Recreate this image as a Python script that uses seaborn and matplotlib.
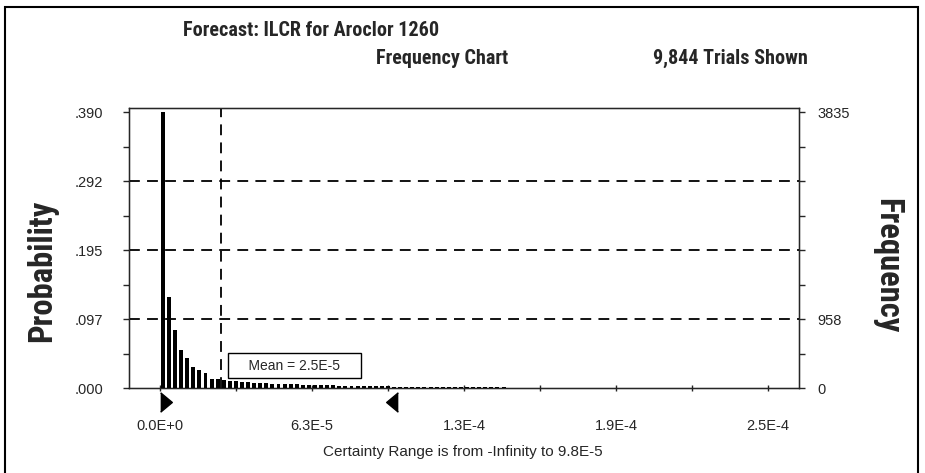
import numpy as np
import pandas as pd
import matplotlib
matplotlib.use("Agg")
import matplotlib.pyplot as plt
import matplotlib.transforms as mtransforms
from matplotlib import font_manager
import seaborn as sns

# Crystal Ball forecast: 100 cells of 2.5E-6 between 0 and 2.5E-4
cell_width = 2.5e-6
trials_shown = 9844
mean_value = 2.5e-5
certainty_low = 0.0
certainty_high = 9.8e-5

frequency = [
    3835, 1264, 806, 528, 417, 292, 250, 208, 125, 125,
    110, 100, 95, 88, 80, 75, 70, 66, 62, 58,
    55, 52, 50, 47, 45, 42, 40, 38, 36, 34,
    32, 30, 28, 26, 25, 24, 22, 21, 20, 19,
    18, 17, 16, 15, 14, 13, 12, 12, 11, 10,
    10, 9, 9, 8, 8, 7, 7, 6, 6, 6,
    5, 5, 5, 4, 4, 4, 4, 3, 3, 3,
    3, 3, 2, 2, 2, 2, 2, 2, 2, 2,
    1, 1, 1, 1, 1, 1, 1, 1, 1, 1,
    1, 1, 1, 1, 1, 1, 0, 1, 0, 1,
]

x_tick_values = [0.0, 6.25e-5, 1.25e-4, 1.875e-4, 2.5e-4]
x_tick_labels = ["0.0E+0", "6.3E-5", "1.3E-4", "1.9E-4", "2.5E-4"]
prob_tick_labels = [".000", ".097", ".195", ".292", ".390"]
freq_tick_values = [0, 958, 3835]
freq_tick_labels = ["0", "958", "3835"]

sns.set_style("ticks")
available = {f.name for f in font_manager.fontManager.ttflist}
narrow = "Liberation Sans"
for cand in ["Liberation Sans Narrow", "Arial Narrow", "Roboto Condensed"]:
    if cand in available:
        narrow = cand
        break
plt.rcParams["font.family"] = ["Liberation Sans", "DejaVu Sans"]

freq = np.array(frequency, dtype=float)
edges = np.arange(len(freq) + 1) * cell_width
df = pd.DataFrame({"value": edges[:-1] + cell_width / 2,
                   "prob": freq / trials_shown})
max_prob = freq.max() / trials_shown
prob_ticks = max_prob * np.array([0, 0.25, 0.5, 0.75, 1.0])

fig = plt.figure(figsize=(9.25, 4.73), dpi=100)
ax = fig.add_axes([129 / 925, 1 - 388 / 473, 670 / 925, 280 / 473])

sns.histplot(data=df, x="value", weights="prob", bins=list(edges), shrink=0.65,
             color="black", edgecolor="black", linewidth=0, alpha=1, ax=ax)

span = x_tick_values[-1] - x_tick_values[0]
ax.set_xlim(x_tick_values[0] - 0.0508 * span, x_tick_values[-1] + 0.0508 * span)
ax.set_ylim(0, max_prob * 1.0145)

# dashed grid at the quartiles and at the mean
for y in prob_ticks[1:4]:
    ax.axhline(y, color="black", lw=1.3, ls=(0, (6, 4)), zorder=0)
ax.axvline(mean_value, color="black", lw=1.3, ls=(0, (6, 4)), zorder=3)

ax.set_yticks(prob_ticks)
ax.set_yticklabels(prob_tick_labels)
ax.set_yticks(prob_ticks[:-1] + max_prob / 8, minor=True)
ax.tick_params(axis="y", which="both", direction="out", length=4, width=1, pad=14.5,
               labelsize=10.5)
ax.set_xticks(x_tick_values)
ax.set_xticklabels(x_tick_labels)
ax.set_xticks(np.array(x_tick_values[:-1]) + span / 8, minor=True)
ax.tick_params(axis="x", which="both", direction="inout", length=4, width=1, pad=20,
               labelsize=10.5)
ax.set_xlabel("")
ax.set_ylabel("")
for s in ax.spines.values():
    s.set_color("black")
    s.set_linewidth(1)

ax2 = ax.twinx()
ax2.set_ylim(0, freq.max() * 1.0145)
ax2.set_yticks(freq_tick_values)
ax2.set_yticklabels(freq_tick_labels)
ax2.set_yticks(np.array([0.125, 0.375, 0.5, 0.625, 0.75, 0.875]) * freq.max(), minor=True)
ax2.tick_params(axis="y", which="both", direction="out", length=4, width=1, pad=9,
                labelsize=10.5)
ax2.set_ylabel("")

# certainty range markers below the axis
tri_right = [(-0.6, -1), (0.6, 0), (-0.6, 1)]
tri_left = [(0.6, -1), (-0.6, 0), (0.6, 1)]
off_r = ax.transData + mtransforms.ScaledTranslation(4.5 / 72, -10 / 72, fig.dpi_scale_trans)
off_l = ax.transData + mtransforms.ScaledTranslation(-4.5 / 72, -10 / 72, fig.dpi_scale_trans)
ax.plot([certainty_low], [0], marker=tri_right, ms=14, color="black", clip_on=False,
        transform=off_r, ls="none")
ax.plot([certainty_high], [0], marker=tri_left, ms=14, color="black", clip_on=False,
        transform=off_l, ls="none")

ax.annotate("    Mean = 2.5E-5    ", xy=(mean_value, 0), xytext=(9, 16),
            textcoords="offset points", ha="left", va="center", fontsize=10, zorder=5,
            bbox=dict(boxstyle="square,pad=0.4", fc="white", ec="black", lw=1))

fig.text(311 / 925, 1 - 30 / 473, "Forecast: ILCR for Aroclor 1260", ha="center",
         va="center", fontsize=14.5, fontweight="bold", family=narrow)
fig.text(442 / 925, 1 - 58 / 473, "Frequency Chart", ha="center", va="center",
         fontsize=14.5, fontweight="bold", family=narrow)
fig.text(730 / 925, 1 - 58 / 473, "9,844 Trials Shown", ha="center", va="center",
         fontsize=14.5, fontweight="bold", family=narrow)
fig.text(42 / 925, 1 - 271 / 473, "Probability", ha="center", va="center", rotation=90,
         fontsize=23.5, fontweight="bold", family=narrow)
fig.text(887 / 925, 1 - 266 / 473, "Frequency", ha="center", va="center", rotation=-90,
         fontsize=23.5, fontweight="bold", family=narrow)
fig.text(463 / 925, 1 - 452 / 473, "Certainty Range is from -Infinity to 9.8E-5",
         ha="center", va="center", fontsize=11)

fig.add_artist(plt.Rectangle((5 / 925, -0.02), 913 / 925, 1 - 7 / 473 + 0.02,
                             transform=fig.transFigure, fill=False, ec="black", lw=1.5))

fig.savefig("out.png", dpi=100, facecolor="white")
